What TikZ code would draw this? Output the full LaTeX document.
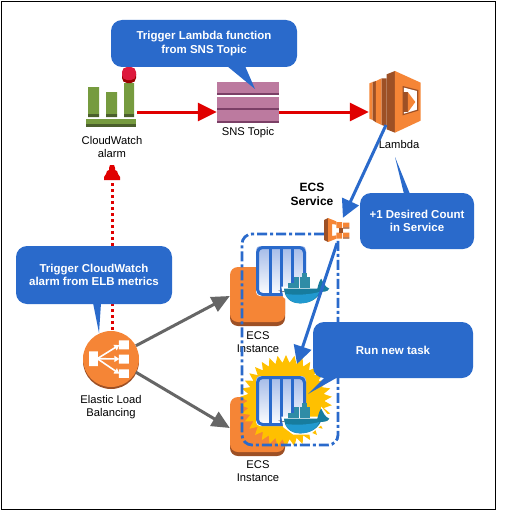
\documentclass[tikz,border=0pt]{standalone}
\usepackage{fontspec}
\setmainfont{Liberation Sans}
\usetikzlibrary{arrows.meta,shapes.geometric}
\definecolor{bubbleblue}{HTML}{2A6ACB}
\definecolor{awsorange}{HTML}{F58536}
\definecolor{awsbrown}{HTML}{9D5025}
\definecolor{cwgreen}{HTML}{769B3F}
\definecolor{cwdark}{HTML}{4B5F2C}
\definecolor{snspink}{HTML}{BC7A9F}
\definecolor{snsdark}{HTML}{7B3F66}
\definecolor{redline}{HTML}{E00000}
\definecolor{greyline}{HTML}{666666}
\definecolor{whaleblue}{HTML}{2199CF}
\definecolor{whaledark}{HTML}{177C9E}
\definecolor{boxteal}{HTML}{2F8CA6}
\definecolor{burstyellow}{HTML}{FFC000}
\definecolor{paleblue}{HTML}{A3BAE8}
\tikzset{
  bubble/.style={fill=bubbleblue,text=white,rounded corners=11pt,align=center,
    font=\fontsize{11.5}{13.5}\selectfont\bfseries,inner sep=0pt},
  iconlabel/.style={align=center,font=\fontsize{11.2}{13}\selectfont},
  anchorbox/.style={inner sep=0pt,minimum height=1pt},
  redarrow/.style={draw=redline,line width=3pt,-{Triangle[length=19pt,width=18pt]}},
  greyarrow/.style={draw=greyline,line width=3pt,-{Triangle[length=18pt,width=16pt]}},
  bluearrow/.style={draw=bubbleblue,line width=3pt,-{Triangle[length=18pt,width=18pt]}},
  pics/container/.style={code={
    \shade[top color=paleblue,bottom color=white,rounded corners=4pt]
      (0,0) rectangle (50,50);
    \foreach \u in {12.5,23.5,35} \fill[bubbleblue] (\u,0) rectangle ++(3.4,50);
    \draw[bubbleblue,line width=3pt,rounded corners=5pt] (1.5,1.5) rectangle (48.5,48.5);
    % whale, drawn in zoomed units
    \begin{scope}[x=0.3333pt,y=-0.3333pt,shift={(-138,-78)}]
      \fill[white] (214,200) -- (330,200) -- (334,170) -- (364,206) -- (338,222) -- (300,254)
        -- (250,254) -- (220,232) -- cycle;
      \draw[black!70,line width=0.5pt] (206,212) -- (224,215);
      \fill[whaledark] (222,206) -- (322,206) .. controls (326,190) and (330,178) .. (334,176)
        .. controls (340,188) and (344,200) .. (358,206)
        .. controls (350,218) and (340,214) .. (332,216)
        .. controls (320,240) and (296,250) .. (270,250)
        .. controls (240,250) and (224,232) .. (222,206) -- cycle;
      \fill[whaleblue] (226,222) .. controls (260,226) and (300,224) .. (328,216)
        .. controls (318,240) and (296,250) .. (270,250)
        .. controls (248,250) and (232,238) .. (226,222) -- cycle;
      \foreach \u in {235,252,269,286} \fill[boxteal] (\u,189) rectangle ++(15.5,16);
      \foreach \u in {252,269,286} \fill[boxteal] (\u,172) rectangle ++(15.5,16);
      \fill[boxteal] (277,158) rectangle ++(15.5,13);
    \end{scope}
  }},
  pics/instance/.style={code={
    \fill[awsbrown,rounded corners=8pt] (0,4) rectangle (55,59);
    \fill[awsorange,rounded corners=8pt] (0,0) rectangle (55,55);
  }}
}
\begin{document}
\begin{tikzpicture}[x=1pt,y=-1pt]
  \useasboundingbox (0,0) rectangle (506,511);
  \draw[black,line width=0.8pt] (1,1) rectangle (495.5,509);

  % anchors for the connectors
  \node[anchorbox,minimum width=50pt] (alarm) at (112,112) {};
  \node[anchorbox,minimum width=62pt] (snstopic) at (248,112) {};
  \node[anchorbox,minimum width=52pt] (lambda) at (395,112) {};
  \node[anchorbox,minimum width=27pt,minimum height=25pt] (ecssvc) at (337,230.5) {};
  \node[anchorbox,circle,minimum size=56pt] (elb) at (111,359) {};
  \node[anchorbox,minimum width=55pt,minimum height=55pt] (inst1) at (257.5,296) {};
  \node[anchorbox,minimum width=55pt,minimum height=55pt] (inst2) at (257.5,428) {};
  \coordinate (lambdaout) at (386,125);
  \coordinate (newtask) at (297,364);
  \coordinate (elbtop) at (112,330);
  \coordinate (alarmtip) at (112,166);

  % cloudwatch alarm
  \fill[cwgreen] (88,87) rectangle (99,114) (106,92) rectangle (117,114) (124,83) rectangle (134,114);
  \fill[cwdark] (88,114) rectangle (99,117) (106,114) rectangle (117,117) (124,114) rectangle (134,117);
  \fill[cwgreen] (86,119) rectangle (136,124);
  \fill[cwdark] (86,124) rectangle (136,127);
  \fill[red!60!black,rounded corners=5pt] (122,69) rectangle (136,83);
  \fill[red!85!blue!90!white,rounded corners=5pt] (122,67) rectangle (136,80);
  \node[iconlabel] (alarmtext) at (112,146.5) {CloudWatch\\alarm};

  % sns topic
  \foreach \v in {82,97,110} {
    \fill[snspink] (217,\v) rectangle (279,\v+11);
    \fill[snsdark] (217,\v+11) rectangle (279,\v+13);
  }
  \node[iconlabel] (snstext) at (248,133) {SNS Topic};

  % lambda
  \begin{scope}[shift={(280,60)},x=0.3333pt,y=-0.3333pt]
    \fill[awsorange] (268,70) -- (278,66) -- (278,180) -- (268,176) -- cycle;
    \fill[awsbrown] (278,66) -- (288,63) -- (288,187) -- (278,180) -- cycle;
    \fill[awsorange] (288,63) -- (305,55) -- (305,195) -- (288,187) -- cycle;
    \fill[awsbrown] (305,55) -- (320,55) -- (320,200) -- (305,195) -- cycle;
    \fill[awsbrown] (320,43) -- (345,33) -- (345,218) -- (320,208) -- cycle;
    \fill[awsorange] (345,33) -- (422,68) -- (422,182) -- (345,218) -- cycle;
    \fill[awsbrown] (368,78) -- (415,90) -- (415,152) -- (368,166) -- cycle;
    \fill[white] (372,83) -- (411,93) -- (411,149) -- (372,161) -- cycle;
    \fill[awsbrown] (370,97) -- (384,97) -- (384,156) -- (370,156) -- cycle;
    \fill[awsorange] (384,97) -- (406,126) -- (384,156) -- cycle;
  \end{scope}
  \node[iconlabel] (lambdatext) at (399,144) {Lambda};

  % ecs instances and tasks
  \pic at (230,267) {instance};
  \pic at (230,397) {instance};
  \node[star,star points=34,star point ratio=1.2,fill=burstyellow,inner sep=0pt,
    minimum size=92pt] (burst) at (286,401) {};
  \pic at (256,246) {container};
  \pic at (256,376) {container};
  \node[iconlabel] (inst1text) at (258,342.5) {ECS\\Instance};
  \node[iconlabel] (inst2text) at (258,471.5) {ECS\\Instance};

  % service boundary
  \draw[bubbleblue,line width=2.8pt,dash pattern=on 10pt off 3pt on 3pt off 3pt,rounded corners=10pt]
    (324,234) -- (242,234) -- (242,445) -- (338,445) -- (338,240);

  % ecs service
  \begin{scope}[shift={(318,212)},x=0.3333pt,y=-0.3333pt]
    \fill[awsbrown] (18,24) -- (30,18) -- (30,90) -- (18,84) -- cycle;
    \fill[awsorange] (30,18) -- (55,28) -- (55,38) -- (42,36) -- (42,72) -- (55,70) -- (55,80)
      -- (30,90) -- cycle;
    \fill[awsorange] (55,30) rectangle (72,48) (55,62) rectangle (72,80);
    \fill[awsbrown] (64,48) rectangle (75,62);
    \fill[awsorange] (75,32) rectangle (94,46) (75,62) rectangle (94,76);
    \fill[awsbrown] (75,46) rectangle (94,50) (75,76) rectangle (94,80);
  \end{scope}
  \node[iconlabel,font=\fontsize{12}{13.5}\selectfont\bfseries] (ecstext) at (312,194.5) {ECS\\Service};

  % elb
  \fill[awsbrown] (111,361) circle (28pt);
  \fill[awsorange] (111,359) circle (28pt);
  \begin{scope}[shift={(84,332)},x=0.3333pt,y=-0.3333pt]
    \fill[white] (15,58) rectangle (42,102) (105,25) rectangle (135,52)
      (105,68) rectangle (135,95) (105,112) rectangle (135,138);
    \draw[white,line width=1.6pt,-{Triangle[length=5pt,width=6pt]}] (40,80) -- (106,39);
    \draw[white,line width=1.6pt,-{Triangle[length=5pt,width=6pt]}] (40,80) -- (106,81);
    \draw[white,line width=1.6pt,-{Triangle[length=5pt,width=6pt]}] (40,80) -- (106,125);
  \end{scope}
  \node[iconlabel] (elbtext) at (111,407) {Elastic Load\\Balancing};

  % connectors
  \draw[redarrow] (alarm.east) -- (snstopic.west);
  \draw[redarrow] (snstopic.east) -- (lambda.west);
  \draw[greyarrow] (elb.28) -- (inst1.west);
  \draw[greyarrow] (elb.-28) -- (inst2.west);
  \draw[bluearrow] (lambdaout) -- (ecssvc.65);
  \draw[bluearrow] (ecssvc.south) -- (newtask);
  \draw[redline,line width=3pt,dash pattern=on 3pt off 3pt] (elbtop) -- (alarmtip);
  \fill[redline] (alarmtip) ++(-2,-1) -- ++(4,0) -- ++(1,3) -- ++(0,2) -- ++(2,1) -- ++(1,3) -- ++(2,3)
    -- ++(0,3) -- ++(-16,0) -- ++(0,-3) -- ++(2,-3) -- ++(1,-3) -- ++(2,-1) -- ++(0,-2) -- cycle;

  % callouts
  \fill[bubbleblue] (227,66) -- (255,89) -- (245,66) -- cycle;
  \node[bubble,minimum width=186pt,minimum height=47pt] (lambdanote) at (204,43.5)
    {Trigger Lambda function\\from SNS Topic};
  \fill[bubbleblue] (404,194) -- (395,157) -- (410,194) -- cycle;
  \node[bubble,minimum width=114pt,minimum height=56pt] (countnote) at (417,221)
    {+1 Desired Count\\in Service};
  \fill[bubbleblue] (93,303) -- (99,333) -- (101,303) -- cycle;
  \node[bubble,minimum width=156pt,minimum height=58pt] (elbnote) at (94,275)
    {Trigger CloudWatch\\alarm from ELB metrics};
  \fill[bubbleblue] (325,377) -- (308,394) -- (338,377) -- cycle;
  \node[bubble,minimum width=160pt,minimum height=56pt] (tasknote) at (393,350) {Run new task};
\end{tikzpicture}
\end{document}
